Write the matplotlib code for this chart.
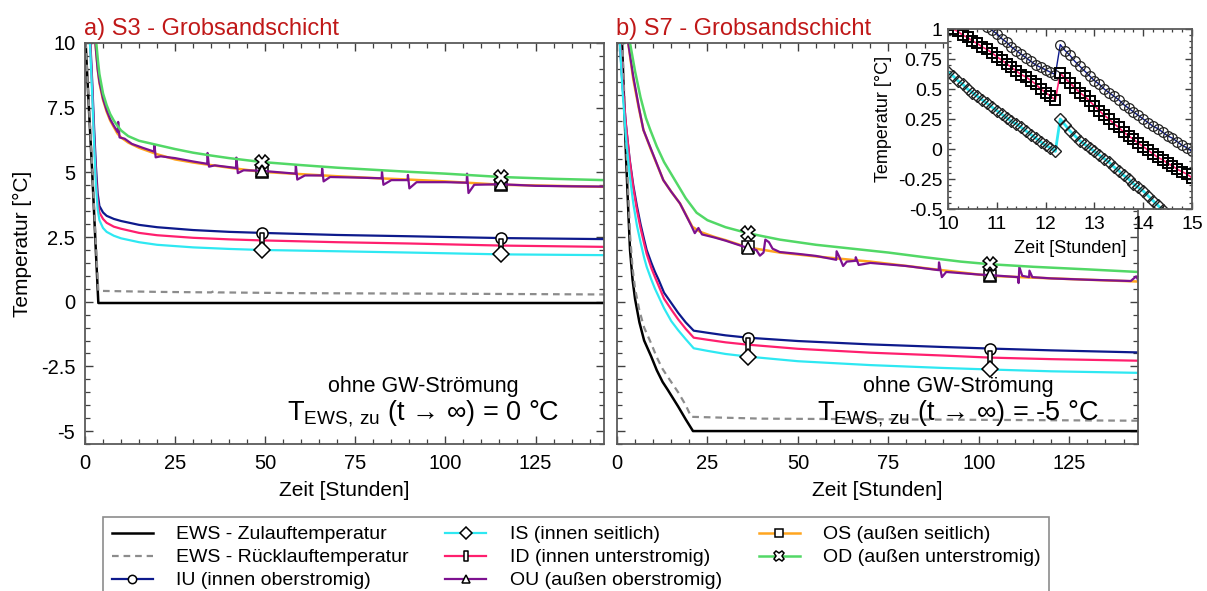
import numpy as np
import matplotlib.pyplot as plt
from matplotlib.path import Path
from matplotlib.ticker import MultipleLocator

plt.rcParams['font.family'] = ['Liberation Sans', 'DejaVu Sans']
plt.rcParams['mathtext.fontset'] = 'custom'
plt.rcParams['mathtext.rm'] = 'Liberation Sans'

# ---------------- a) S3 - Grobsandschicht ----------------
A_MARK = [49, 115.5]

a_zu_t = [0, 1, 2, 3, 3.7, 144]
a_zu = [10.5, 7.7, 5.0, 2.0, -0.05, -0.05]

a_ruck_t = [0, 1, 2, 3, 3.7, 20, 35, 36, 37, 60, 100, 144]
a_ruck = [10.5, 7.8, 5.2, 2.3, 0.42, 0.38, 0.36, 0.42, 0.36, 0.33, 0.31, 0.28]

a_in_t = [1.0, 1.5, 2, 2.5, 3, 3.5, 4, 5, 6, 8, 10, 15, 20, 30, 40, 49, 70, 90, 115.5, 144]
a_iu = [11, 10, 8.5, 6.8, 5.3, 4.2, 3.7, 3.45, 3.32, 3.2, 3.12, 2.97, 2.88, 2.77, 2.70, 2.66, 2.58, 2.53, 2.46, 2.42]
a_id = [11, 9.8, 8.2, 6.4, 4.9, 3.9, 3.45, 3.2, 3.05, 2.9, 2.82, 2.66, 2.57, 2.47, 2.41, 2.37, 2.30, 2.25, 2.17, 2.12]
a_is = [11, 9.6, 8.0, 6.2, 4.6, 3.6, 3.15, 2.85, 2.7, 2.55, 2.45, 2.3, 2.2, 2.1, 2.04, 2.0, 1.95, 1.9, 1.83, 1.8]

a_out_t = [2.6, 3.2, 3.6, 4, 5, 6, 7, 8, 9, 10, 12, 15, 20, 25, 30, 35, 40, 49, 60, 70, 80, 90, 100, 115.5, 130, 144]
a_os = [10.5, 9.5, 8.9, 8.45, 7.8, 7.35, 7.0, 6.75, 6.5, 6.35, 6.15, 5.95, 5.7, 5.5, 5.38, 5.28, 5.18, 5.02,
        4.93, 4.85, 4.78, 4.72, 4.65, 4.52, 4.48, 4.44]
a_od = [10.8, 9.9, 9.3, 8.8, 8.05, 7.6, 7.25, 7.0, 6.8, 6.62, 6.4, 6.22, 6.06, 5.9, 5.76, 5.65, 5.55, 5.4,
        5.28, 5.18, 5.1, 5.02, 4.95, 4.82, 4.75, 4.70]

a_ou_t = [2.6, 3, 3.5, 4, 5, 6, 7, 8, 9.1, 9.2, 9.6, 11, 13, 16, 19.2, 19.3, 19.6, 21, 25, 30,
          33.9, 34.0, 34.4, 36, 41.9, 42.0, 42.4, 44, 49, 58.4, 58.5, 58.9, 61, 65.7, 65.8, 66.2,
          68, 75, 82.3, 82.4, 82.8, 85, 89.5, 89.6, 90.0, 92, 100, 105.9, 106.0, 106.4, 108,
          115.5, 125, 135, 144]
a_ou = [10.5, 9.8, 9.0, 8.5, 7.85, 7.4, 7.05, 6.8, 6.55, 6.95, 6.35, 6.3, 6.1, 5.95, 5.8, 6.05, 5.58,
        5.62, 5.55, 5.42, 5.33, 5.75, 5.22, 5.27, 5.17, 5.57, 4.97, 5.08, 5.06, 4.95, 5.28, 4.72,
        4.88, 4.88, 5.15, 4.65, 4.82, 4.8, 4.77, 5.03, 4.52, 4.7, 4.7, 4.9, 4.38, 4.62, 4.62, 4.6,
        4.95, 4.2, 4.52, 4.54, 4.48, 4.46, 4.45]

# ---------------- b) S7 - Grobsandschicht ----------------
B_MARK = [36.1, 103]

b_zu_t = [0, 0.8, 1.4, 2, 2.5, 3, 3.6, 4.3, 5, 6.2, 7.5, 9.4, 11, 12.6, 14, 16.9, 19, 21, 144]
b_zu = [11.5, 11.0, 10.0, 7.6, 5.6, 3.9, 2.0, 0.85, 0.1, -0.8, -1.5, -2.1, -2.65, -3.1, -3.4,
        -4.05, -4.55, -5.0, -5.0]

b_ruck_t = [0, 1.4, 2, 3, 3.6, 4.3, 5, 6.2, 7.5, 9.4, 11, 12.6, 14, 16.9, 19, 20.5, 40, 80, 144]
b_ruck = [11.5, 10.3, 8.0, 4.5, 2.6, 1.3, 0.5, -0.35, -1.0, -1.6, -2.15, -2.6, -2.9, -3.5, -4.0,
          -4.45, -4.52, -4.55, -4.6]

b_in_t = [0.5, 0.8, 1.5, 2.5, 3.5, 4.5, 5.5, 6.5, 7.5, 8.2, 9.5, 10.5, 11.5, 13, 15, 16.9, 19,
          21.2, 25, 30, 36.1, 50, 70, 90, 103, 120, 144]
b_iu = [11, 10, 8.4, 6.8, 5.5, 4.5, 3.7, 3.0, 2.4, 2.0, 1.5, 1.15, 0.85, 0.35, -0.05, -0.43, -0.8,
        -1.12, -1.2, -1.3, -1.39, -1.52, -1.65, -1.75, -1.81, -1.88, -1.96]
b_id = [11, 10.2, 8.5, 6.8, 5.45, 4.4, 3.55, 2.85, 2.25, 1.85, 1.3, 0.95, 0.62, 0.12, -0.3, -0.68,
        -1.05, -1.39, -1.47, -1.57, -1.66, -1.82, -1.97, -2.08, -2.16, -2.22, -2.28]
b_is = [11, 10, 8.2, 6.3, 4.9, 3.8, 2.95, 2.3, 1.7, 1.35, 0.85, 0.5, 0.2, -0.25, -0.75, -1.1, -1.45,
        -1.8, -1.9, -2.02, -2.12, -2.3, -2.45, -2.56, -2.62, -2.69, -2.75]

b_od_t = [2.5, 3.6, 5, 6.5, 8, 9.2, 11, 13, 16, 19, 22, 25, 30, 36.1, 45, 55, 65, 75, 85, 95, 103,
          115, 130, 144]
b_od = [11, 10, 8.9, 7.9, 7.1, 6.64, 6.0, 5.4, 4.7, 4.0, 3.44, 3.15, 2.88, 2.65, 2.4, 2.2, 2.05,
        1.9, 1.72, 1.55, 1.45, 1.35, 1.25, 1.15]

b_os_t = [2.3, 3.1, 4.5, 6, 7.3, 9.4, 12.8, 15, 17.4, 20.8, 23, 27, 30, 36.1, 45, 55, 70, 85, 103,
          115, 130, 144]
b_os = [11, 10, 8.6, 7.5, 6.64, 5.87, 4.7, 4.25, 3.8, 2.9, 2.7, 2.5, 2.38, 2.1, 1.9, 1.75, 1.55,
        1.3, 1.0, 0.93, 0.85, 0.78]

b_ou_t = [2.4, 3.1, 4.5, 6, 7.3, 9.4, 12.8, 15, 17.4, 20.5, 21.5, 22.5, 23.5, 27, 30, 36.1, 38.5,
          39.5, 40.5, 41, 42, 43, 45, 50, 55, 60.6, 60.7, 61.5, 62.5, 63.5, 65.9, 66.0, 66.8, 70,
          80, 88.9, 89.0, 89.8, 91, 100, 103, 110.8, 111.0, 111.2, 112, 113.9, 114.0, 114.8, 120,
          130, 142, 143.5, 144]
b_ou = [11, 10, 8.7, 7.55, 6.64, 5.9, 4.7, 4.25, 3.8, 2.95, 2.65, 2.85, 2.6, 2.48, 2.36, 2.08, 2.0,
        1.78, 1.9, 2.4, 2.3, 2.05, 1.92, 1.85, 1.77, 1.62, 1.95, 1.72, 1.38, 1.55, 1.58, 1.72, 1.42,
        1.5, 1.38, 1.22, 1.52, 0.95, 1.15, 1.05, 1.03, 0.95, 0.72, 1.35, 1.0, 0.95, 1.2, 0.95, 0.9,
        0.85, 0.8, 0.98, 0.85]

# ---------------- inset: S7, 10 - 15 h ----------------
z_t = [10.0, 10.1, 10.2, 10.3, 10.4, 10.5, 10.6, 10.7, 10.8, 10.9, 11.0, 11.1, 11.2, 11.3, 11.4,
       11.5, 11.6, 11.7, 11.8, 11.9, 12.0, 12.1, 12.2,
       12.3, 12.4, 12.5, 12.6, 12.7, 12.8, 12.9, 13.0, 13.1, 13.2, 13.3, 13.4, 13.5, 13.6, 13.7,
       13.8, 13.9, 14.0, 14.1, 14.2, 14.3, 14.4, 14.5, 14.6, 14.7, 14.8, 14.9, 15.0]
z_iu = [1.30, 1.27, 1.23, 1.20, 1.17, 1.14, 1.10, 1.06, 1.02, 0.99, 0.96, 0.92, 0.89, 0.85, 0.82,
        0.79, 0.76, 0.73, 0.70, 0.68, 0.66, 0.64, 0.62,
        0.87, 0.82, 0.78, 0.73, 0.69, 0.65, 0.61, 0.57, 0.54, 0.50, 0.47, 0.44, 0.41, 0.37, 0.34,
        0.31, 0.28, 0.25, 0.22, 0.19, 0.17, 0.14, 0.11, 0.09, 0.06, 0.03, 0.01, -0.02]
z_id = [1.03, 1.00, 0.98, 0.95, 0.93, 0.90, 0.88, 0.85, 0.83, 0.80, 0.77, 0.74, 0.71, 0.68, 0.65,
        0.62, 0.60, 0.57, 0.54, 0.50, 0.47, 0.44, 0.41,
        0.63, 0.59, 0.55, 0.51, 0.47, 0.44, 0.40, 0.36, 0.32, 0.28, 0.25, 0.21, 0.18, 0.14, 0.11,
        0.08, 0.05, 0.02, -0.01, -0.04, -0.07, -0.09, -0.12, -0.14, -0.17, -0.19, -0.21, -0.24]
z_is = [0.64, 0.61, 0.57, 0.54, 0.50, 0.47, 0.44, 0.41, 0.38, 0.35, 0.32, 0.29, 0.26, 0.23, 0.21,
        0.18, 0.15, 0.12, 0.09, 0.06, 0.03, 0.01, -0.02,
        0.25, 0.20, 0.15, 0.11, 0.07, 0.04, 0.01, -0.02, -0.05, -0.08, -0.11, -0.15, -0.18, -0.22,
        -0.25, -0.29, -0.32, -0.35, -0.39, -0.43, -0.47, -0.51, -0.55, -0.59, -0.62, -0.66, -0.70,
        -0.73]

# colours
C_ZU = 'black'
C_RUCK = '#8c8c8c'
C_IU = '#0d1a8c'
C_ID = '#ff1f6e'
C_IS = '#2ee8f2'
C_OU = '#7d1190'
C_OS = '#ffa51f'
C_OD = '#52d866'
C_TITLE = '#c01818'
C_FRAME = '#5a5a5a'

# narrow upright rectangle marker for "ID"
rect_marker = Path([(-0.32, -1), (0.32, -1), (0.32, 1), (-0.32, 1), (-0.32, -1)],
                   [Path.MOVETO, Path.LINETO, Path.LINETO, Path.LINETO, Path.CLOSEPOLY])

mk = dict(markerfacecolor='white', markeredgecolor='black', markeredgewidth=1.1)


def idx(t, marks):
    return [t.index(m) for m in marks]


def style_axes(ax):
    for sp in ax.spines.values():
        sp.set_color(C_FRAME)
        sp.set_linewidth(1.3)
    ax.tick_params(which='both', direction='in', top=True, right=True, color='#404040',
                   labelsize=14.5)
    ax.tick_params(which='major', length=6, width=1.0, pad=7)
    ax.tick_params(which='minor', length=3.5, width=0.9)


def panel(ax, d, marks):
    ax.plot(d['zu_t'], d['zu'], color=C_ZU, lw=1.8, label='EWS - Zulauftemperatur')
    ax.plot(d['ruck_t'], d['ruck'], color=C_RUCK, lw=1.6, ls=(0, (3, 2.2)),
            label='EWS - Rücklauftemperatur')
    ax.plot(d['in_t'], d['iu'], color=C_IU, lw=1.6, marker='o', ms=8,
            markevery=idx(d['in_t'], marks), label='IU (innen oberstromig)', **mk)
    ax.plot(d['in_t'], d['id'], color=C_ID, lw=1.6, marker=rect_marker, ms=10,
            markevery=idx(d['in_t'], marks), label='ID (innen unterstromig)', **mk)
    ax.plot(d['in_t'], d['is'], color=C_IS, lw=1.6, marker='D', ms=8,
            markevery=idx(d['in_t'], marks), label='IS (innen seitlich)', **mk)
    ax.plot(d['os_t'], d['os'], color=C_OS, lw=1.8, marker='s', ms=8,
            markevery=idx(d['os_t'], marks), label='OS (außen seitlich)', **mk)
    ax.plot(d['ou_t'], d['ou'], color=C_OU, lw=1.6, marker='^', ms=8,
            markevery=idx(d['ou_t'], marks), label='OU (außen oberstromig)', **mk)
    ax.plot(d['od_t'], d['od'], color=C_OD, lw=1.8, marker='X', ms=10,
            markevery=idx(d['od_t'], marks), label='OD (außen unterstromig)', **mk)

    ax.set_xlim(0, 144)
    ax.set_ylim(-5.5, 10)
    ax.xaxis.set_major_locator(MultipleLocator(25))
    ax.xaxis.set_minor_locator(MultipleLocator(5))
    ax.yaxis.set_major_locator(MultipleLocator(2.5))
    ax.yaxis.set_minor_locator(MultipleLocator(0.5))
    ax.yaxis.set_major_formatter(lambda v, p: f'{v:g}')
    style_axes(ax)
    ax.set_xlabel('Zeit [Stunden]', fontsize=15, labelpad=6)


fig = plt.figure(figsize=(12.07, 5.91), dpi=100)
W, H = 1207, 591
ax_a = fig.add_axes([85 / W, 1 - 444 / H, 519 / W, 401 / H])
ax_b = fig.add_axes([617 / W, 1 - 444 / H, 521 / W, 401 / H])

panel(ax_a, {'zu_t': a_zu_t, 'zu': a_zu, 'ruck_t': a_ruck_t, 'ruck': a_ruck,
             'in_t': a_in_t, 'iu': a_iu, 'id': a_id, 'is': a_is,
             'os_t': a_out_t, 'os': a_os, 'od_t': a_out_t, 'od': a_od,
             'ou_t': a_ou_t, 'ou': a_ou}, A_MARK)
panel(ax_b, {'zu_t': b_zu_t, 'zu': b_zu, 'ruck_t': b_ruck_t, 'ruck': b_ruck,
             'in_t': b_in_t, 'iu': b_iu, 'id': b_id, 'is': b_is,
             'os_t': b_os_t, 'os': b_os, 'od_t': b_od_t, 'od': b_od,
             'ou_t': b_ou_t, 'ou': b_ou}, B_MARK)

ax_a.set_ylabel('Temperatur [°C]', fontsize=15, labelpad=6)
ax_b.tick_params(labelleft=False)

fig.text(84 / W, 1 - 35 / H, 'a) S3 - Grobsandschicht', color=C_TITLE, fontsize=17,
         va='baseline', ha='left')
fig.text(616 / W, 1 - 35 / H, 'b) S7 - Grobsandschicht', color=C_TITLE, fontsize=17,
         va='baseline', ha='left')

for ax, tinf, xc in [(ax_a, '0', 0.651), (ax_b, '-5', 0.655)]:
    ax.text(xc, 0.13, 'ohne GW-Strömung', transform=ax.transAxes, ha='center',
            va='baseline', fontsize=15.5)
    ax.text(xc, 0.06, r'T$_{\mathregular{EWS,\,zu}}$ (t → ∞) = ' + tinf + ' °C',
            transform=ax.transAxes, ha='center', va='baseline', fontsize=19.5)

# inset with the jump around 12 h
axi = fig.add_axes([948 / W, 1 - 209 / H, 244 / W, 180 / H])
axi.plot(z_t, z_iu, color=C_IU, lw=1.0, marker='o', ms=7, mfc='none', mec='#222222', mew=0.9)
axi.plot(z_t, z_id, color=C_ID, lw=1.2, marker='s', ms=7, mfc='none', mec='black', mew=1.4)
axi.plot(z_t, z_is, color=C_IS, lw=2.0, marker='D', ms=6.5, mfc='none', mec='#202020', mew=1.0)
axi.set_xlim(10, 15)
axi.set_ylim(-0.5, 1)
axi.xaxis.set_major_locator(MultipleLocator(1))
axi.xaxis.set_minor_locator(MultipleLocator(0.2))
axi.yaxis.set_major_locator(MultipleLocator(0.25))
axi.yaxis.set_minor_locator(MultipleLocator(0.05))
axi.yaxis.set_major_formatter(lambda v, p: f'{v:g}')
style_axes(axi)
axi.tick_params(labelsize=14)
axi.tick_params(which='major', length=5)
axi.tick_params(axis='x', which='major', pad=5)
axi.tick_params(axis='y', which='major', pad=4)
axi.tick_params(which='minor', length=2.5)
axi.set_xlabel('Zeit [Stunden]', fontsize=13, labelpad=5)
axi.set_ylabel('Temperatur [°C]', fontsize=13, labelpad=4)

h, l = ax_a.get_legend_handles_labels()
order = ['EWS - Zulauftemperatur', 'EWS - Rücklauftemperatur', 'IU (innen oberstromig)',
         'IS (innen seitlich)', 'ID (innen unterstromig)', 'OU (außen oberstromig)',
         'OS (außen seitlich)', 'OD (außen unterstromig)']
hs = [h[l.index(o)] for o in order]
leg = fig.legend(hs, order, loc='upper left', bbox_to_anchor=(103 / W, 1 - 517 / H), ncol=3,
                 fontsize=14, frameon=True, fancybox=False, edgecolor='#707070',
                 handlelength=2.1, handletextpad=1.2, columnspacing=1.9, labelspacing=0.28,
                 borderpad=0.45, borderaxespad=0, markerscale=0.75)
leg.get_frame().set_linewidth(1.2)

fig.savefig('out.png', dpi=100)
